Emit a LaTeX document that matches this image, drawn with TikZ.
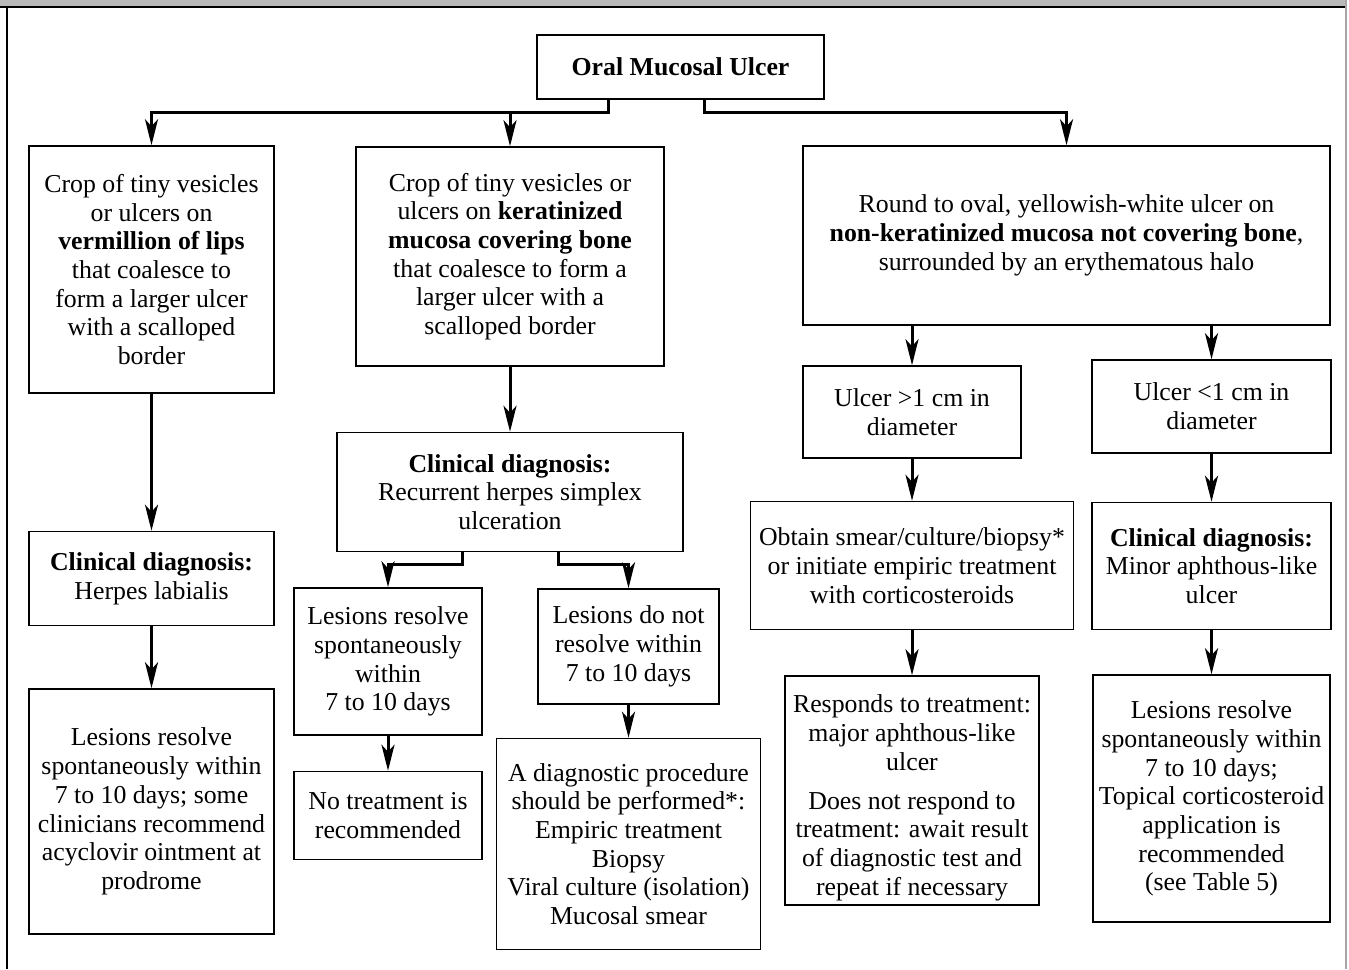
\documentclass[tikz,border=0pt]{standalone}
\usepackage{fontspec}
\setmainfont{Liberation Serif}
\usetikzlibrary{arrows.meta,positioning}
\tikzstyle{box} = [draw, line width=1.5pt, align=center, inner sep=3pt, font=\fontsize{25.8}{28.7}\selectfont]
\tikzstyle{arrow} = [line width=3pt, -{Stealth[length=26pt,width=13pt,inset=7pt]}]

\begin{document}
\begin{tikzpicture}[x=1pt,y=1pt,node distance=40pt]
\useasboundingbox (0,0) rectangle (1349,-969);
\fill[gray!55] (0,0) rectangle (1345,-7);
\draw[line width=2pt] (0,-7) -- (1345,-7);
\draw[line width=2pt] (7,-7) -- (7,-969);
\draw[gray!70, line width=1.5pt] (1346,0) -- (1346,-969);

\node (ulcer) [box, minimum width=287pt, minimum height=64pt] at (680.5,-67) {\textbf{Oral Mucosal Ulcer}};

\node (lips) [box, minimum width=245pt, minimum height=247pt] at (151.5,-269.5) {Crop of tiny vesicles\\ or ulcers on\\ \textbf{vermillion of lips}\\ that coalesce to\\ form a larger ulcer\\ with a scalloped\\ border};
\node (labdx) [box, minimum width=245pt, minimum height=94pt, below=137pt of lips] {\textbf{Clinical diagnosis:}\\ Herpes labialis};
\node (labrx) [box, minimum width=245pt, minimum height=245pt, below=62pt of labdx] {Lesions resolve\\ spontaneously within\\ 7 to 10 days; some\\ clinicians recommend\\ acyclovir ointment at\\ prodrome};

\node (bone) [box, minimum width=308pt, minimum height=219pt] at (510,-256.5) {Crop of tiny vesicles or\\ ulcers on \textbf{keratinized}\\ \textbf{mucosa covering bone}\\ that coalesce to form a\\ larger ulcer with a\\ scalloped border};
\node (hsvdx) [box, minimum width=346pt, minimum height=119pt, below=65pt of bone] {\textbf{Clinical diagnosis:}\\ Recurrent herpes simplex\\ ulceration};
\node (hsvres) [box, minimum width=188pt, minimum height=147pt] at (388,-661.5) {Lesions resolve\\ spontaneously\\ within\\ 7 to 10 days};
\node (hsvnot) [box, minimum width=181pt, minimum height=115pt] at (628.5,-646.5) {Lesions do not\\ resolve within\\ 7 to 10 days};
\node (notx) [box, minimum width=188pt, minimum height=88pt, below=35pt of hsvres] {No treatment is\\ recommended};
\node (proc) [box, minimum width=264pt, minimum height=211pt, below=33pt of hsvnot] {A diagnostic procedure\\ should be performed*:\\ Empiric treatment\\ Biopsy\\ Viral culture (isolation)\\ Mucosal smear};

\node (oval) [box, minimum width=527pt, minimum height=179pt] at (1066.5,-235.5) {Round to oval, yellowish-white ulcer on\\ \textbf{non-keratinized mucosa not covering bone},\\ surrounded by an erythematous halo};
\node (big) [box, minimum width=218pt, minimum height=92pt] at (912,-412) {Ulcer >1 cm in\\ diameter};
\node (small) [box, minimum width=239pt, minimum height=93pt] at (1211.5,-406.5) {Ulcer <1 cm in\\ diameter};
\node (smear) [box, minimum width=323pt, minimum height=128pt, below=42pt of big] {Obtain smear/culture/biopsy*\\ or initiate empiric treatment\\ with corticosteroids};
\node (minordx) [box, minimum width=239pt, minimum height=127pt, below=48pt of small] {\textbf{Clinical diagnosis:}\\ Minor aphthous-like\\ ulcer};
\node (major) [box, inner ysep=0pt, minimum width=254pt, minimum height=229pt, below=45pt of smear] {\mbox{}\\[4pt] Responds to treatment:\\ major aphthous-like\\ ulcer\\[10pt] Does not respond to\\ treatment: await result\\ of diagnostic test and\\ repeat if necessary};
\node (minorrx) [box, minimum width=237pt, minimum height=247pt, below=44pt of minordx] {Lesions resolve\\ spontaneously within\\ 7 to 10 days;\\ Topical corticosteroid\\ application is\\ recommended\\ (see Table 5)};

\draw[arrow] ([xshift=-72.5pt]ulcer.south) -- ++(0,-13) -| (lips);
\draw[arrow] ([xshift=-72.5pt]ulcer.south) -- ++(0,-13) -| (bone);
\draw[arrow] ([xshift=23.5pt]ulcer.south) -- ++(0,-13) -| (oval);

\path[arrow] (lips) edge (labdx) (labdx) edge (labrx);
\path[arrow] (bone) edge (hsvdx);
\draw[arrow] ([xshift=-48pt]hsvdx.south) -- ++(0,-12) -| (hsvres);
\draw[arrow] ([xshift=48pt]hsvdx.south) -- ++(0,-12) -| (hsvnot);
\path[arrow] (hsvres) edge (notx) (hsvnot) edge (proc);

\draw[arrow] (oval.south -| big) -- (big);
\draw[arrow] (oval.south -| small) -- (small);
\path[arrow] (big) edge (smear) (smear) edge (major);
\path[arrow] (small) edge (minordx) (minordx) edge (minorrx);
\end{tikzpicture}
\end{document}
